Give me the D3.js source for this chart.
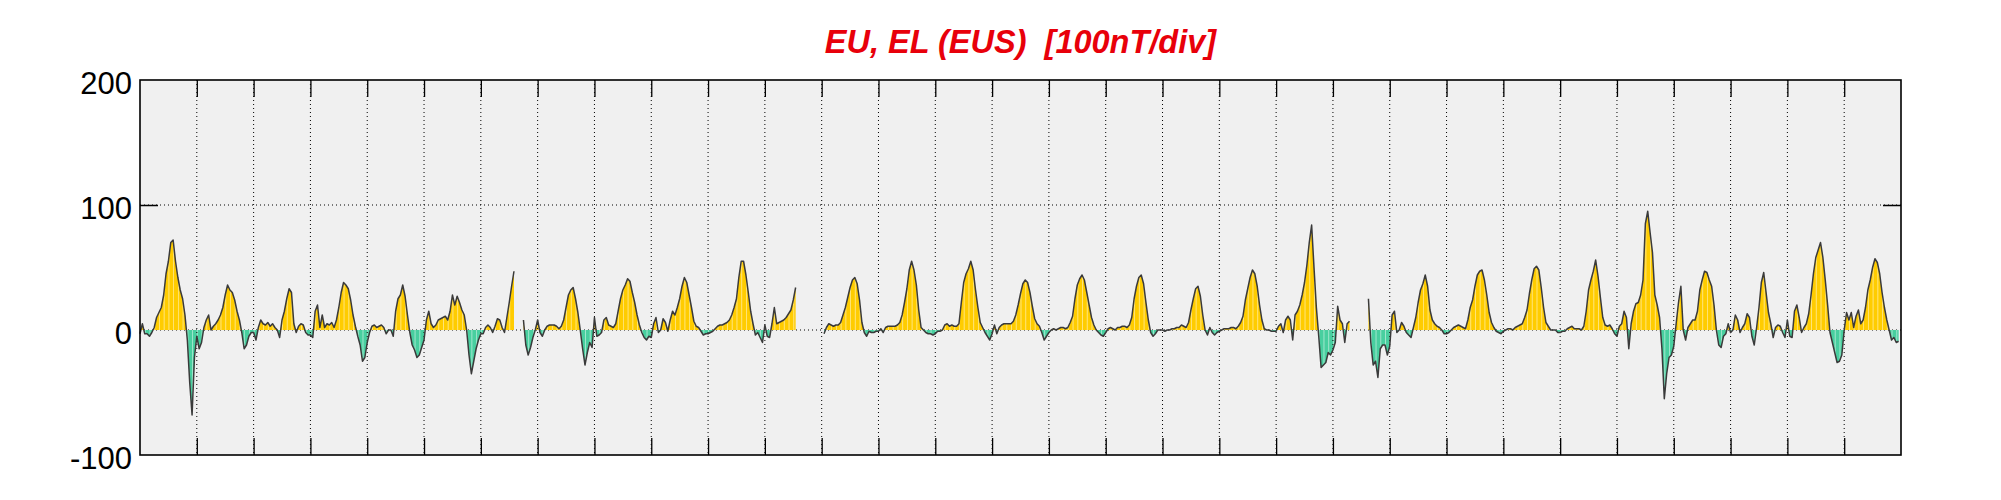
<!DOCTYPE html>
<html><head><meta charset="utf-8">
<script src="https://cdn.jsdelivr.net/npm/d3@7"></script>
<style>body{margin:0;background:#fff}svg{display:block}</style>
</head><body><svg id="chart" width="2001" height="500"></svg>
<script>
const chartTitle = "EU, EL (EUS)  [100nT/div]";
const yTickValues = [-100, 0, 100, 200];
const yTickLabels = ["-100", "0", "100", "200"];
const gridValues = [0, 100];
const dayCount = 31;
const hoursPerDay = 24;
// hourly EU/EL envelope values (nT), one row per day, null = no data
const eusByDay = [
  [-3,5,-3,-3,-5,-2,2,10,14,18,28,45,55,70,72,55,42,32,25,12,-8,-42,-68,-22],
  [-5,-15,-10,2,8,12,0,3,5,8,12,18,28,36,32,30,24,15,8,-2,-15,-12,-5,-2],
  [-2,-8,2,8,5,4,6,3,5,2,0,-6,8,15,25,33,30,5,-2,3,5,4,-2,-4],
  [-4,-6,15,20,2,12,2,5,4,6,2,8,18,30,38,36,33,24,12,3,-5,-12,-25,-22],
  [-10,-2,3,4,2,3,4,2,-3,0,0,-5,15,25,28,36,27,12,-2,-12,-16,-22,-20,-14],
  [-8,8,15,5,2,4,8,9,10,11,8,15,28,20,27,22,16,12,0,-20,-35,-25,-15,-8],
  [-3,-3,2,4,2,-2,3,9,8,2,-2,10,22,35,47,null,null,null,8,-12,-20,-14,-6,0],
  [8,-2,-5,0,3,4,4,4,3,1,3,8,18,28,32,34,25,14,0,-15,-28,-18,-10,-14],
  [10,-5,-4,-2,8,10,4,3,2,5,15,25,32,36,41,39,30,22,12,4,-2,-6,-8,-5],
  [-6,5,10,-2,0,9,6,-1,8,15,12,18,25,35,42,38,28,18,7,3,2,-1,-4,-3],
  [-3,-2,-1,1,3,4,4,5,6,8,12,18,25,42,55,55,44,30,15,5,-4,-2,-6,-10],
  [4,-5,-6,5,18,5,6,7,8,10,13,16,24,34,null,null,null,null,null,null,null,null,null,null],
  [null,-3,2,5,4,3,4,4,6,12,18,26,34,40,42,37,24,6,-2,-5,-1,-2,-2,-1],
  [-1,1,-2,2,3,3,3,3,4,6,12,22,33,48,55,48,36,16,2,0,-2,-3,-3,-4],
  [-3,-1,-1,0,4,5,3,4,3,3,5,22,38,45,49,55,48,32,18,6,2,-2,-5,-8],
  [-3,4,-3,2,4,5,5,5,5,7,12,20,29,37,40,38,30,19,9,5,3,-2,-8,-5],
  [-2,0,1,0,1,2,2,1,2,6,11,25,36,41,44,40,30,20,10,4,0,-2,-4,-5],
  [-2,1,2,1,0,2,2,3,3,2,4,10,25,35,42,44,37,22,8,-2,-5,-3,0,0],
  [0,-1,0,0,1,1,2,2,4,3,2,6,16,25,33,35,27,12,0,-4,2,-2,-4,-2],
  [-1,0,1,1,1,2,2,1,3,6,11,24,33,42,48,45,35,20,8,1,0,0,-1,-1],
  [-1,3,5,-2,8,11,8,-8,12,15,20,28,38,52,70,84,50,18,-5,-30,-28,-26,-18,-20],
  [-16,-10,19,8,5,-10,5,7,null,null,null,null,null,null,null,25,-10,-28,-25,-38,-15,-12,-12,-20],
  [-13,12,15,-2,0,6,3,-2,-4,-6,2,10,22,32,37,44,35,16,8,5,3,2,0,-3],
  [-3,-2,0,2,3,4,3,2,1,8,18,24,35,44,47,48,40,28,14,6,2,-1,-2,-3],
  [-1,0,1,1,0,2,3,4,5,10,16,29,40,49,51,48,34,18,6,3,0,0,0,-2],
  [-2,-1,-1,1,2,3,1,1,1,0,3,15,32,40,47,56,43,26,10,4,3,4,1,-3],
  [-5,3,5,15,10,-15,5,15,21,22,28,40,85,95,78,62,28,20,10,-15,-55,-35,-22,-20],
  [-13,5,22,35,0,-8,2,5,8,8,15,32,40,47,46,40,35,20,0,-12,-14,-5,-3,5],
  [-2,0,12,8,-2,2,5,13,10,-5,-12,2,18,38,46,30,14,5,-6,2,4,3,-2,-6],
  [8,-5,-6,15,20,10,-2,2,5,13,28,45,58,64,70,58,40,20,-2,-10,-18,-26,-25,-20],
  [0,14,8,14,2,11,16,5,8,18,32,40,50,57,54,45,30,18,8,0,-8,-6,-10,-9]
];
const eusValues = eusByDay.flat();

const W = 2001, H = 500;
const margin = {left: 140, top: 80, right: 100, bottom: 45};
const x = d3.scaleLinear().domain([0, dayCount * hoursPerDay]).range([margin.left, W - margin.right]);
const y = d3.scaleLinear().domain([-100, 200]).range([H - margin.bottom, margin.top]);
const svg = d3.select("#chart");
const data = eusValues.map((v, i) => ({i, v}));
const x0 = margin.left, x1 = W - margin.right, yTop = margin.top, yBot = H - margin.bottom;

svg.append("rect").attr("width", W).attr("height", H).attr("fill", "#fff");
svg.append("rect").attr("x", x0).attr("y", yTop).attr("width", x1 - x0).attr("height", yBot - yTop).attr("fill", "#f0f0f0");

// horizontal dotted grid
svg.append("g").selectAll("line").data(gridValues).join("line")
  .attr("x1", x0).attr("x2", x1).attr("y1", d => y(d)).attr("y2", d => y(d))
  .attr("stroke", "#000").attr("stroke-width", 1).attr("stroke-dasharray", "1,3");

const defs = svg.append("defs");
defs.append("clipPath").attr("id", "clipPos").append("rect")
  .attr("x", x0).attr("y", yTop).attr("width", x1 - x0).attr("height", y(0) - yTop);
defs.append("clipPath").attr("id", "clipNeg").append("rect")
  .attr("x", x0).attr("y", y(0)).attr("width", x1 - x0).attr("height", yBot - y(0));

const area = d3.area().defined(d => d.v != null)
  .x(d => x(d.i)).y0(y(0)).y1(d => y(d.v));
defs.append("clipPath").attr("id", "clipArea").append("path").attr("d", area(data));

svg.append("path").attr("d", area(data)).attr("fill", "#ffcc00").attr("clip-path", "url(#clipPos)");
svg.append("path").attr("d", area(data)).attr("fill", "#48cf9f").attr("clip-path", "url(#clipNeg)");

// thin white separators every 2 hours inside the filled area
const stripeIdx = d3.range(0, dayCount * hoursPerDay + 1, 2);
svg.append("g").attr("clip-path", "url(#clipArea)").selectAll("line").data(stripeIdx).join("line")
  .attr("x1", d => x(d) + 0.5).attr("x2", d => x(d) + 0.5).attr("y1", yTop).attr("y2", yBot)
  .attr("stroke", "#fff").attr("stroke-width", 0.7).attr("opacity", 0.7);

// vertical dotted day grid
const dayIdx = d3.range(1, dayCount).map(d => d * hoursPerDay);
svg.append("g").selectAll("line").data(dayIdx).join("line")
  .attr("x1", d => x(d)).attr("x2", d => x(d)).attr("y1", yTop).attr("y2", yBot)
  .attr("stroke", "#000").attr("stroke-width", 1).attr("stroke-dasharray", "1,3");

// data line
const line = d3.line().defined(d => d.v != null).x(d => x(d.i)).y(d => y(d.v));
svg.append("path").attr("d", line(data)).attr("fill", "none")
  .attr("stroke", "#3a3a3a").attr("stroke-width", 1.5).attr("stroke-linejoin", "round");

// x ticks (top & bottom, inward)
const xTop = d3.axisTop(x).tickValues(dayIdx).tickSize(-17).tickFormat("");
const xBot = d3.axisBottom(x).tickValues(dayIdx).tickSize(-17).tickFormat("");
svg.append("g").attr("transform", `translate(0,${yTop})`).call(xTop)
  .call(g => g.select(".domain").remove()).selectAll("line").attr("stroke", "#000").attr("stroke-width", 1.3);
svg.append("g").attr("transform", `translate(0,${yBot})`).call(xBot)
  .call(g => g.select(".domain").remove()).selectAll("line").attr("stroke", "#000").attr("stroke-width", 1.3);

// y ticks inward at 100 on both sides
const yL = d3.axisLeft(y).tickValues([100]).tickSize(-18).tickFormat("");
const yR = d3.axisRight(y).tickValues([100]).tickSize(-18).tickFormat("");
svg.append("g").attr("transform", `translate(${x0},0)`).call(yL)
  .call(g => g.select(".domain").remove()).selectAll("line").attr("stroke", "#000").attr("stroke-width", 1.5);
svg.append("g").attr("transform", `translate(${x1},0)`).call(yR)
  .call(g => g.select(".domain").remove()).selectAll("line").attr("stroke", "#000").attr("stroke-width", 1.5);

// y labels
const yLab = d3.axisLeft(y).tickValues(yTickValues).tickSize(0).tickPadding(8)
  .tickFormat((d, i) => yTickLabels[i]);
const gl = svg.append("g").attr("transform", `translate(${x0},0)`).call(yLab);
gl.select(".domain").remove();
gl.selectAll("text").attr("font-family", "'Liberation Sans', Arial, Helvetica, sans-serif")
  .attr("font-size", 31).attr("fill", "#000").attr("dy", "0.38em").attr("transform", "translate(0,2)");

// frame
svg.append("rect").attr("x", x0).attr("y", yTop).attr("width", x1 - x0).attr("height", yBot - yTop)
  .attr("fill", "none").attr("stroke", "#000").attr("stroke-width", 1.6);

// title
svg.append("text").attr("x", (x0 + x1) / 2).attr("y", 53).attr("text-anchor", "middle")
  .attr("font-family", "'Liberation Sans', Arial, Helvetica, sans-serif")
  .attr("font-weight", "bold").attr("font-style", "italic").attr("font-size", 32.5)
  .attr("xml:space", "preserve").style("white-space", "pre")
  .attr("fill", "#e8000a").text(chartTitle);
</script>
</body></html>
